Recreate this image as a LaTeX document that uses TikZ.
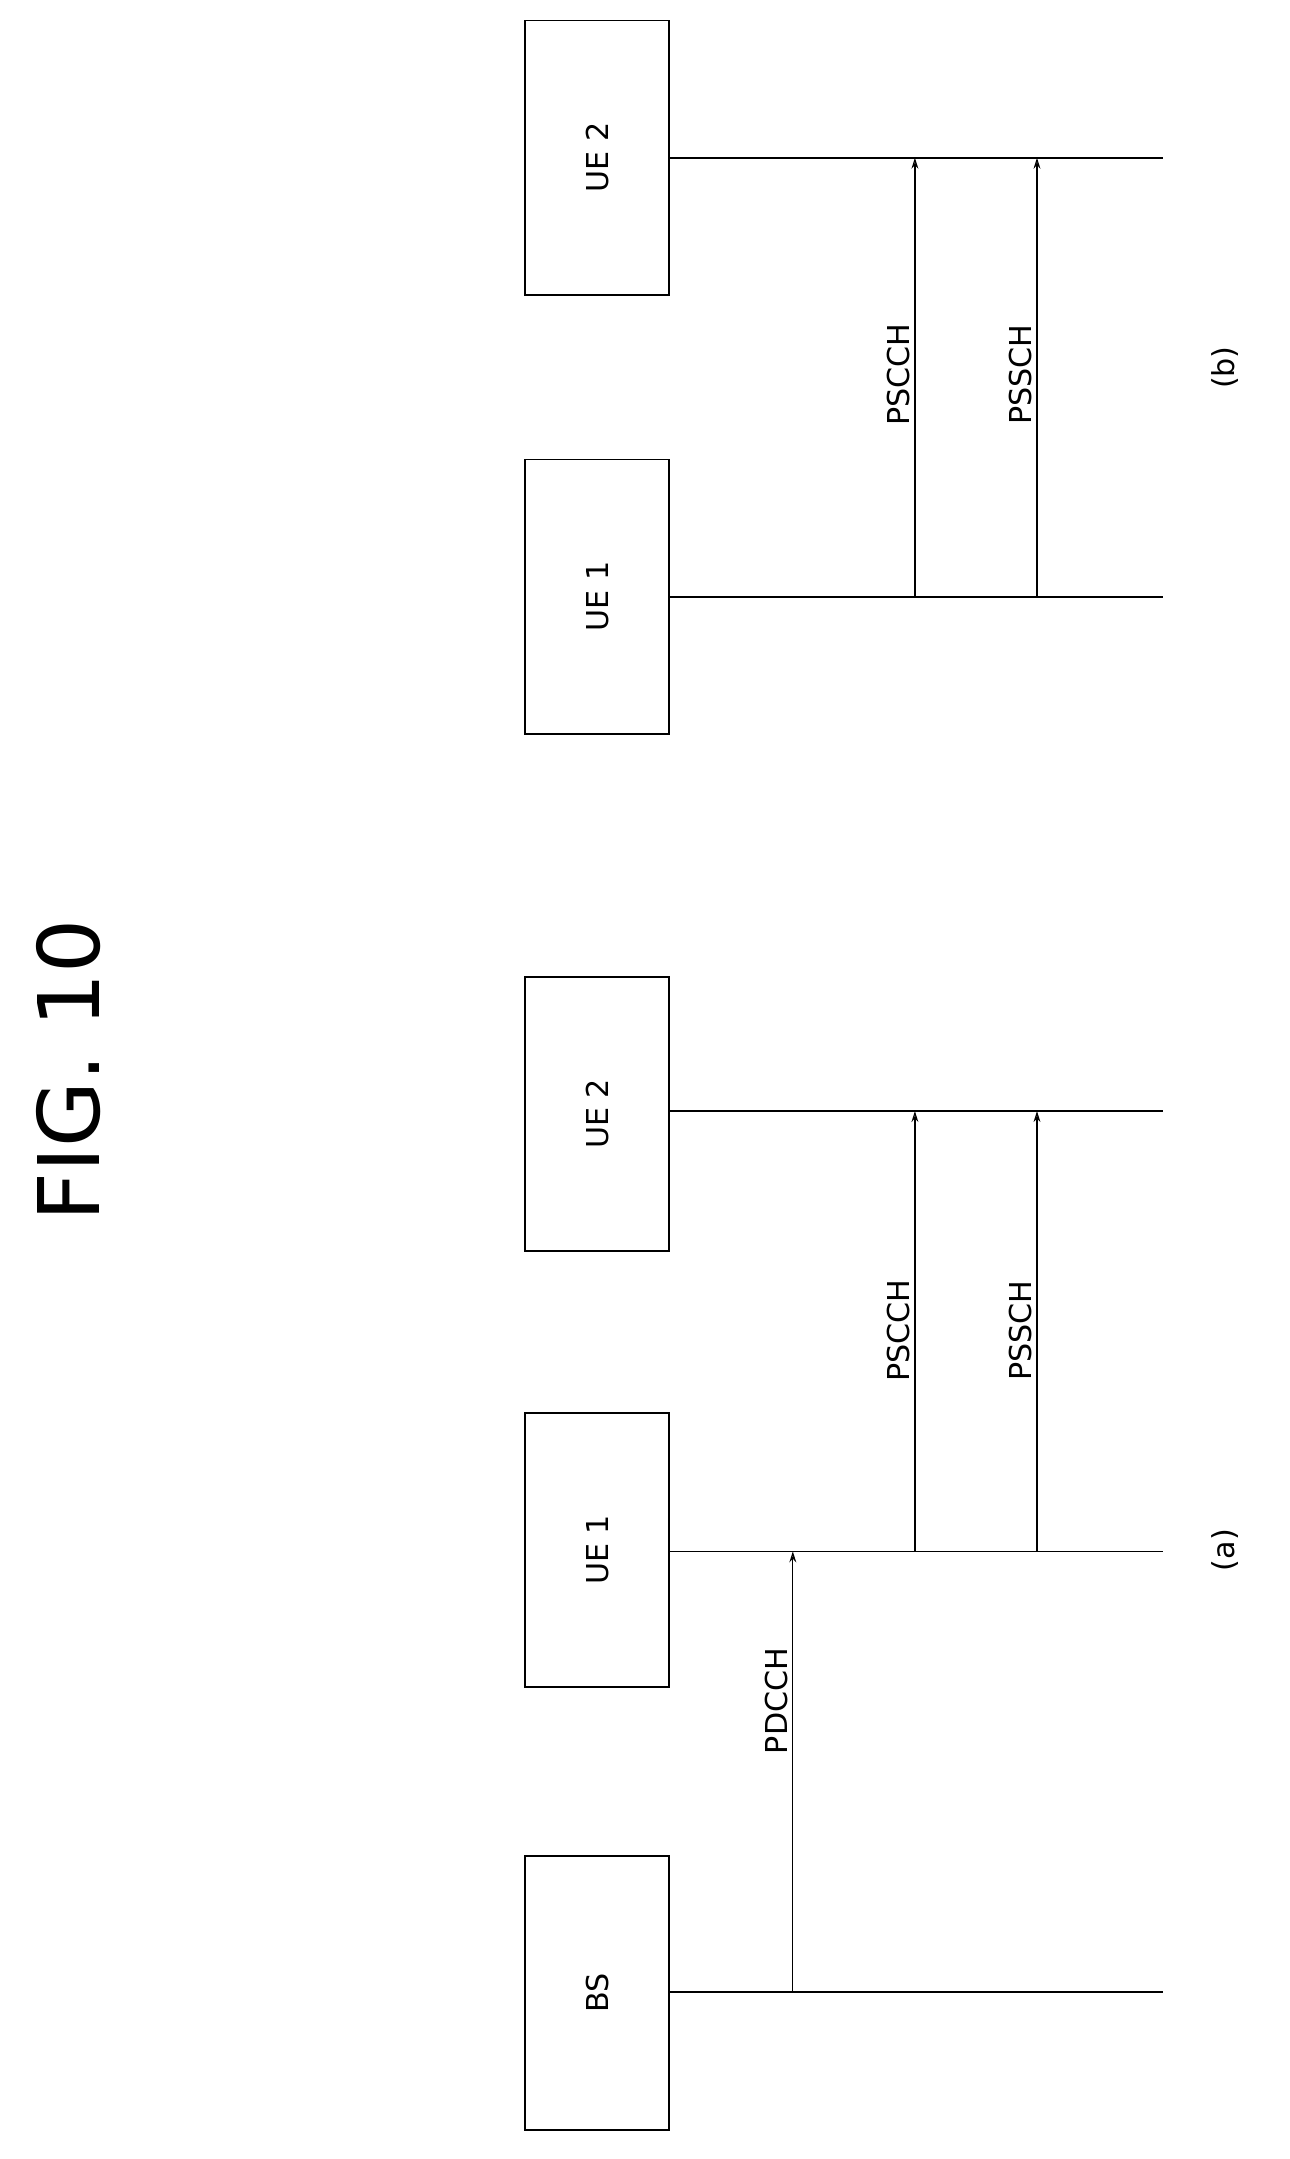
\documentclass[tikz,border=0pt]{standalone}
\usepackage{fontspec}
\setmainfont{DejaVu Sans}
\usetikzlibrary{arrows.meta}
\begin{document}
\begin{tikzpicture}[x=1pt,y=-1pt,
  box/.style={draw,line width=1.3pt,minimum width=105pt,minimum height=200pt,inner sep=0pt},
  lab/.style={rotate=90,font=\fontsize{22}{24}\selectfont},
  life/.style={line width=1.2pt},
  msg/.style={line width=0.9pt,-{Stealth[length=8pt,width=5pt,open]}}]
\useasboundingbox (0,0) rectangle (940,1574);
\node[lab,font=\fontsize{62}{64}\selectfont] (title) at (50,780) {FIG. 10};
% (a)
\node[box] (bs) at (435.5,1453) {}; \node[lab] at (bs) {BS};
\node[box] (ua1) at (435.5,1130) {}; \node[lab] at (ua1) {UE 1};
\node[box] (ua2) at (435.5,812) {}; \node[lab] at (ua2) {UE 2};
\coordinate (bsE) at (848,1452); \coordinate (ua1E) at (848,1131); \coordinate (ua2E) at (848,810);
\draw[life] (bs.east |- bsE) -- (bsE);
\draw[life] (ua1.east |- ua1E) -- (ua1E);
\draw[life] (ua2.east |- ua2E) -- (ua2E);
\coordinate (p1) at (578,1452); \coordinate (p1e) at (578,1131);
\draw[msg] (p1) -- (p1e);
\node[lab,anchor=south] at (578,1240) {PDCCH};
\coordinate (a1) at (667,1131); \coordinate (a1e) at (667,810);
\coordinate (a2) at (756,1131); \coordinate (a2e) at (756,810);
\draw[msg] (a1) -- (a1e); \draw[msg] (a2) -- (a2e);
\node[lab,anchor=south] at (667,970) {PSCCH};
\node[lab,anchor=south] at (756,970) {PSSCH};
\node[lab] (ca) at (893,1130) {(a)};
% (b)
\node[box] (ub1) at (435.5,435) {}; \node[lab] at (ub1) {UE 1};
\node[box] (ub2) at (435.5,115) {}; \node[lab] at (ub2) {UE 2};
\coordinate (ub1E) at (848,435); \coordinate (ub2E) at (848,115);
\draw[life] (ub1.east |- ub1E) -- (ub1E);
\draw[life] (ub2.east |- ub2E) -- (ub2E);
\coordinate (b1) at (667,435); \coordinate (b1e) at (667,115);
\coordinate (b2) at (756,435); \coordinate (b2e) at (756,115);
\draw[msg] (b1) -- (b1e); \draw[msg] (b2) -- (b2e);
\node[lab,anchor=south] at (667,273) {PSCCH};
\node[lab,anchor=south] at (756,273) {PSSCH};
\node[lab] (cb) at (893,268) {(b)};
\end{tikzpicture}
\end{document}
